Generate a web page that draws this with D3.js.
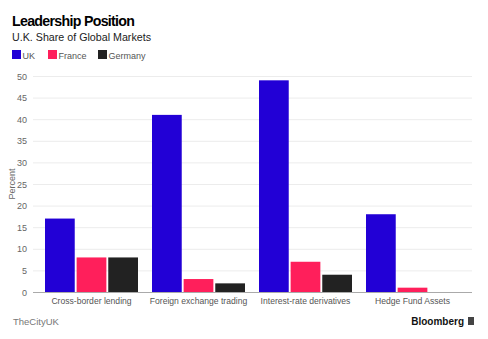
<!DOCTYPE html>
<html><head><meta charset="utf-8">
<script src="https://cdn.jsdelivr.net/npm/d3@7"></script>
<style>body{margin:0;background:#fff;} svg{display:block;font-family:"Liberation Sans","Arial",sans-serif;}</style>
</head><body><svg id="c" width="488" height="339"></svg>
<script>
const categories = ["Cross-border lending","Foreign exchange trading","Interest-rate derivatives","Hedge Fund Assets"];
const seriesNames = ["UK","France","Germany"];
const ukValues = [17,41,49,18];
const franceValues = [8,3,7,1];
const germanyValues = [8,2,4,0];
const yTicks = [0,5,10,15,20,25,30,35,40,45,50];
const colors = ["#2200d6","#ff1f5b","#222222"];

const svg = d3.select("#c");
const seriesVals = [ukValues, franceValues, germanyValues];

const y = d3.scaleLinear().domain([0,50]).range([292,76]);
const x0 = d3.scaleBand().domain(categories).range([38,466]).padding(0);
const x1 = d3.scaleBand().domain(seriesNames).range([7,100]).paddingInner(0.06);

// title
svg.append("text").attr("x",12).attr("y",26).attr("font-size",14.2).attr("font-weight",700).attr("letter-spacing",-0.7).attr("fill","#000").text("Leadership Position");
svg.append("text").attr("x",12).attr("y",41).attr("font-size",10.7).attr("fill","#222").text("U.K. Share of Global Markets");

// legend
const legX = [12,48,98];
seriesNames.forEach((s,i)=>{
  svg.append("rect").attr("x",legX[i]).attr("y",50).attr("width",9).attr("height",9).attr("fill",colors[i]);
  svg.append("text").attr("x",legX[i]+10.5).attr("y",58.5).attr("font-size",9).attr("fill","#555").text(s);
});

// gridlines
svg.append("g").selectAll("line").data(yTicks.filter(d=>d>0)).join("line")
  .attr("x1",33).attr("x2",472).attr("y1",d=>y(d)+0.5).attr("y2",d=>y(d)+0.5)
  .attr("stroke","#ececec").attr("stroke-width",1);

// y tick labels
svg.append("g").selectAll("text").data(yTicks).join("text")
  .attr("x",27).attr("y",d=>y(d)+3.5).attr("text-anchor","end").attr("font-size",9).attr("fill","#666").text(d=>d);

svg.append("text").attr("transform","translate(15,184) rotate(-90)").attr("text-anchor","middle")
  .attr("font-size",9).attr("fill","#666").text("Percent");

// bars
const g = svg.append("g").selectAll("g").data(categories).join("g")
  .attr("transform",d=>`translate(${x0(d)},0)`);
g.selectAll("rect").data((d,ci)=>seriesNames.map((s,si)=>({s,v:seriesVals[si][ci],si}))).join("rect")
  .attr("x",d=>x1(d.s)).attr("width",x1.bandwidth())
  .attr("y",d=>y(d.v)).attr("height",d=>y(0)-y(d.v))
  .attr("fill",d=>colors[d.si]);

// baseline
svg.append("line").attr("x1",33).attr("x2",472).attr("y1",292.5).attr("y2",292.5).attr("stroke","#aaa").attr("stroke-width",1);

// x labels
svg.append("g").selectAll("text").data(categories).join("text")
  .attr("x",d=>x0(d)+x0.bandwidth()/2).attr("y",303.5).attr("text-anchor","middle")
  .attr("font-size",8.6).attr("fill","#555").text(d=>d);

// footer
svg.append("text").attr("x",13).attr("y",325).attr("font-size",9.5).attr("fill","#777").text("TheCityUK");
svg.append("text").attr("x",464).attr("y",325).attr("text-anchor","end").attr("font-size",10).attr("font-weight",700).attr("fill","#111").text("Bloomberg");
svg.append("rect").attr("x",468).attr("y",317).attr("width",6).attr("height",8).attr("fill","#444");
</script></body></html>
